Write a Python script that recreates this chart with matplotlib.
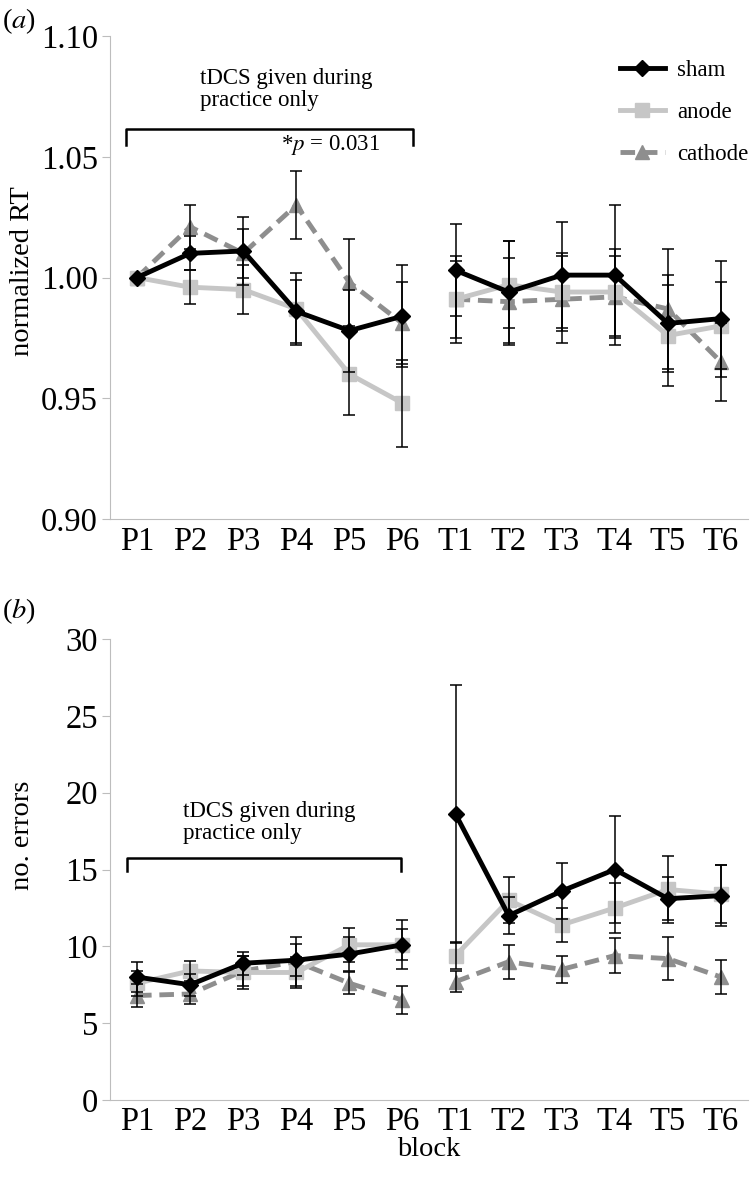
import numpy as np
import matplotlib.pyplot as plt

plt.rcParams['font.family'] = ['Liberation Serif', 'DejaVu Serif']
plt.rcParams['mathtext.fontset'] = 'stix'

# blocks
blocks = ['P1', 'P2', 'P3', 'P4', 'P5', 'P6', 'T1', 'T2', 'T3', 'T4', 'T5', 'T6']

# (a) normalized RT
rt_sham = [1.000, 1.010, 1.011, 0.986, 0.978, 0.984, 1.003, 0.994, 1.001, 1.001, 0.981, 0.983]
rt_anode = [1.000, 0.996, 0.995, 0.987, 0.960, 0.948, 0.991, 0.997, 0.994, 0.994, 0.976, 0.980]
rt_cathode = [1.000, 1.021, 1.010, 1.030, 0.998, 0.981, 0.991, 0.990, 0.991, 0.992, 0.987, 0.965]
rt_sham_err = [0.0, 0.007, 0.014, 0.013, 0.017, 0.021, 0.019, 0.021, 0.022, 0.029, 0.020, 0.024]
rt_anode_err = [0.0, 0.007, 0.010, 0.015, 0.017, 0.018, 0.016, 0.018, 0.016, 0.018, 0.021, 0.018]
rt_cathode_err = [0.0, 0.009, 0.010, 0.014, 0.018, 0.017, 0.018, 0.018, 0.018, 0.017, 0.025, 0.016]

# (b) number of errors
er_sham = [8.0, 7.5, 8.9, 9.1, 9.5, 10.1, 18.6, 12.0, 13.6, 15.0, 13.1, 13.3]
er_anode = [7.6, 8.4, 8.3, 8.3, 10.1, 10.1, 9.4, 13.0, 11.4, 12.5, 13.7, 13.4]
er_cathode = [6.8, 6.9, 8.4, 9.0, 7.6, 6.5, 7.7, 9.0, 8.5, 9.4, 9.2, 8.0]
er_sham_err = [1.0, 0.7, 0.75, 1.05, 1.1, 1.0, 8.4, 1.2, 1.8, 3.5, 1.4, 2.0]
er_anode_err = [0.8, 0.65, 1.1, 1.0, 1.1, 1.6, 0.9, 1.5, 1.1, 1.65, 2.2, 1.9]
er_cathode_err = [0.75, 0.65, 1.0, 1.6, 0.7, 0.9, 0.7, 1.1, 0.9, 1.15, 1.4, 1.1]

styles = {
    'sham': dict(color='black', ls='-', marker='D', ms=8, lw=3.5, zorder=5),
    'anode': dict(color='#c6c6c6', ls='-', marker='s', ms=10, lw=3.5, zorder=4),
    'cathode': dict(color='#8e8e8e', ls=(0, (3, 1.6)), marker='^', ms=10, lw=3.5, zorder=3),
}

x = np.arange(len(blocks))
fig = plt.figure(figsize=(7.5, 11.77), dpi=100)
ax1 = fig.add_axes([0.1473, 0.559, 0.8495, 0.4104])
ax2 = fig.add_axes([0.1473, 0.0654, 0.8495, 0.3917])


def draw(ax, series, errs):
    handles = []
    for (name, y), e in zip(series.items(), errs):
        y = np.array(y)
        e = np.array(e)
        st = styles[name]
        # practice and test blocks are drawn as separate segments
        for sl in (slice(0, 6), slice(6, 12)):
            ax.errorbar(x[sl], y[sl], yerr=e[sl], fmt='none', ecolor='black',
                        elinewidth=1.1, capsize=4, capthick=1.1, zorder=6)
            h, = ax.plot(x[sl], y[sl], color=st['color'], ls=st['ls'], lw=st['lw'],
                         marker=st['marker'], ms=st['ms'], mfc=st['color'],
                         mec=st['color'], zorder=st['zorder'], label=name)
        handles.append(h)
    ax.set_xlim(-0.5, 11.5)
    ax.set_xticks(x)
    ax.set_xticklabels(blocks)
    for s in ('top', 'right'):
        ax.spines[s].set_visible(False)
    ax.spines['left'].set_color('#bdbdbd')
    ax.spines['bottom'].set_color('#bdbdbd')
    ax.tick_params(axis='y', direction='out', length=6, color='#bdbdbd', labelsize=23.5, pad=3)
    ax.tick_params(axis='x', length=0, labelsize=23.5, pad=5)
    return handles


h = draw(ax1, {'sham': rt_sham, 'anode': rt_anode, 'cathode': rt_cathode},
         [rt_sham_err, rt_anode_err, rt_cathode_err])
ax1.set_ylim(0.90, 1.10)
ax1.set_yticks([0.90, 0.95, 1.00, 1.05, 1.10])
ax1.set_yticklabels(['0.90', '0.95', '1.00', '1.05', '1.10'])

draw(ax2, {'sham': er_sham, 'anode': er_anode, 'cathode': er_cathode},
     [er_sham_err, er_anode_err, er_cathode_err])
ax2.set_ylim(0, 30)
ax2.set_yticks(range(0, 31, 5))

# brackets and notes
ax1.plot([-0.2, -0.2, 5.19, 5.19], [1.0548, 1.0617, 1.0617, 1.0548], color='black', lw=1.8)
ax1.text(1.18, 1.078, 'tDCS given during\npractice only', ha='left', va='center',
         fontsize=16.5, linespacing=1.05)
ax1.text(2.71, 1.0548, '*$p$ = 0.031', ha='left', va='center', fontsize=16.5)

ax2.plot([-0.19, -0.19, 4.97, 4.97], [14.9, 15.77, 15.77, 14.9], color='black', lw=1.8)
ax2.text(0.86, 18.05, 'tDCS given during\npractice only', ha='left', va='center',
         fontsize=16.5, linespacing=1.05)

leg = ax1.legend(handles=h, loc='upper right', bbox_to_anchor=(1.026, 0.983), frameon=False,
                 fontsize=16.5, handlelength=2.0, labelspacing=0.9, handletextpad=0.5,
                 borderaxespad=0.3)

fig.text(0.03, 0.770, 'normalized RT', rotation=90, ha='center', va='center', fontsize=20.5)
fig.text(0.03, 0.290, 'no. errors', rotation=90, ha='center', va='center', fontsize=20.5)
fig.text(0.002, 0.982, '($\\mathit{a}$)', ha='left', va='center', fontsize=20.5)
fig.text(0.002, 0.481, '($\\mathit{b}$)', ha='left', va='center', fontsize=20.5)
ax2.set_xlabel('block', fontsize=20.5, labelpad=0)

fig.savefig('out.png', dpi=100)
